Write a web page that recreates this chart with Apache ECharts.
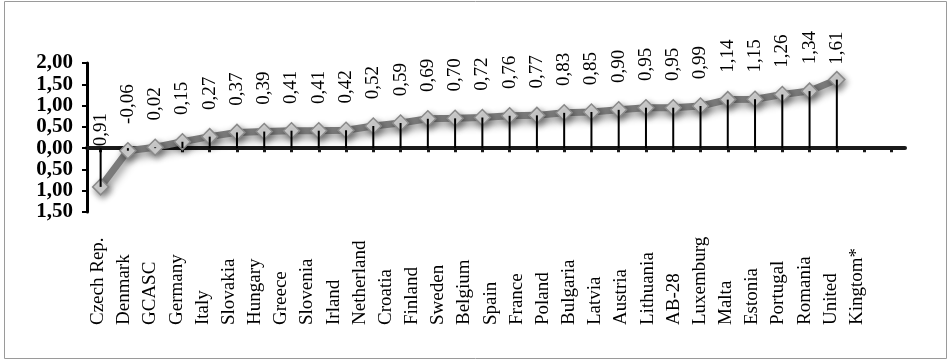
<!DOCTYPE html>
<html>
<head>
<meta charset="utf-8">
<script src="https://cdn.jsdelivr.net/npm/echarts@6/dist/echarts.min.js"></script>
<style>
html,body{margin:0;padding:0;background:#fff;}
#chart{width:949px;height:360px;}
</style>
</head>
<body>
<div id="chart"></div>
<script>
// Category labels as printed under the axis (30 slots)
var categoryLabels = ['Czech Rep.','Denmark','GCASC','Germany','Italy','Slovakia','Hungary','Greece','Slovenia','Irland','Netherland','Croatia','Finland','Sweden','Belgium','Spain','France','Poland','Bulgaria','Latvia','Austria','Lithuania','AB-28','Luxemburg','Malta','Estonia','Portugal','Romania','United','Kingtom*'];
// Point categories (28 points + one empty slot at the end of the axis)
var pointCategories = ['Czech Rep.','Denmark','GCASC','Germany','Italy','Slovakia','Hungary','Greece','Slovenia','Irland','Netherland','Croatia','Finland','Sweden','Belgium','Spain','France','Poland','Bulgaria','Latvia','Austria','Lithuania','AB-28','Luxemburg','Malta','Estonia','Portugal','Romania','United Kingtom*',''];
var values = [-0.91,-0.06,0.02,0.15,0.27,0.37,0.39,0.41,0.41,0.42,0.52,0.59,0.69,0.70,0.72,0.76,0.77,0.83,0.85,0.90,0.95,0.95,0.99,1.14,1.15,1.26,1.34,1.61];
var yTicks = {min:-1.5, max:2, interval:0.5};

function fmt(v){ return v.toFixed(2).replace('.', ','); }

var serif = '"Liberation Serif","DejaVu Serif",serif';
var lineData = values.map(function(v, i){
  var item = {value: v};
  if (v < -0.5) {
    // label sits just above the zero line, minus sign not shown (as in the source)
    item.label = {distance: 32, formatter: function(p){ return fmt(Math.abs(p.value)); }};
  } else if (v > 1.5) {
    // label pushed down to stay inside the chart area
    item.label = {distance: 6};
  }
  return item;
});

var chart = echarts.init(document.getElementById('chart'));
chart.setOption({
  animation: false,
  backgroundColor: '#fff',
  graphic: [{
    type: 'rect', shape: {x: 4.5, y: 1.5, width: 942, height: 357},
    style: {fill: 'none', stroke: '#9a9a9a', lineWidth: 1}, silent: true, z: -10
  }],
  grid: [
    {left: 87, right: 44, top: 63, height: 149},
    {left: 85, width: 785, top: 327, height: 1}
  ],
  xAxis: [{
    type: 'category', gridIndex: 0, data: pointCategories, boundaryGap: true,
    axisLine: {onZero: true, lineStyle: {color: '#1a1a1a', width: 4}},
    axisTick: {show: true, interval: 0, alignWithLabel: true, length: 4, lineStyle: {color: '#1a1a1a', width: 3}},
    axisLabel: {show: false, interval: 0}, splitLine: {show: false}
  }, {
    type: 'category', gridIndex: 1, position: 'top', data: categoryLabels, boundaryGap: true,
    axisLine: {show: false}, axisTick: {show: false}, splitLine: {show: false},
    axisLabel: {
      interval: 0, rotate: 90, margin: 2, color: '#000', fontFamily: serif, fontSize: 19
    }
  }],
  yAxis: [{
    type: 'value', gridIndex: 0, min: yTicks.min, max: yTicks.max, interval: yTicks.interval,
    axisLine: {show: true, lineStyle: {color: '#000', width: 3}},
    axisTick: {show: true, length: 5, lineStyle: {color: '#000', width: 2}},
    splitLine: {show: false},
    axisLabel: {margin: 14, color: '#000', fontFamily: serif, fontSize: 21, fontWeight: 'bold',
      formatter: function(v){ return fmt(Math.abs(v)); }}
  }, {
    type: 'value', gridIndex: 1, show: false
  }],
  series: [{
    type: 'line', xAxisIndex: 0, yAxisIndex: 0, data: lineData, z: 2,
    symbol: 'diamond', symbolSize: 16,
    lineStyle: {color: '#7a7a7a', width: 7, shadowColor: 'rgba(0,0,0,0.45)', shadowBlur: 8, shadowOffsetX: 2, shadowOffsetY: 4},
    itemStyle: {color: '#d6d6d6', borderColor: '#8a8a8a', borderWidth: 1.5, shadowColor: 'rgba(0,0,0,0.4)', shadowBlur: 6, shadowOffsetX: 2, shadowOffsetY: 3},
    label: {
      show: true, position: 'top', distance: 18, rotate: 90, align: 'left', verticalAlign: 'middle',
      color: '#000', fontFamily: serif, fontSize: 19,
      formatter: function(p){ return fmt(p.value); }
    }
  }, {
    type: 'bar', xAxisIndex: 0, yAxisIndex: 0, data: values, z: 3,
    barWidth: 2, itemStyle: {color: '#000'}, silent: true
  }]
});
</script>
</body>
</html>
